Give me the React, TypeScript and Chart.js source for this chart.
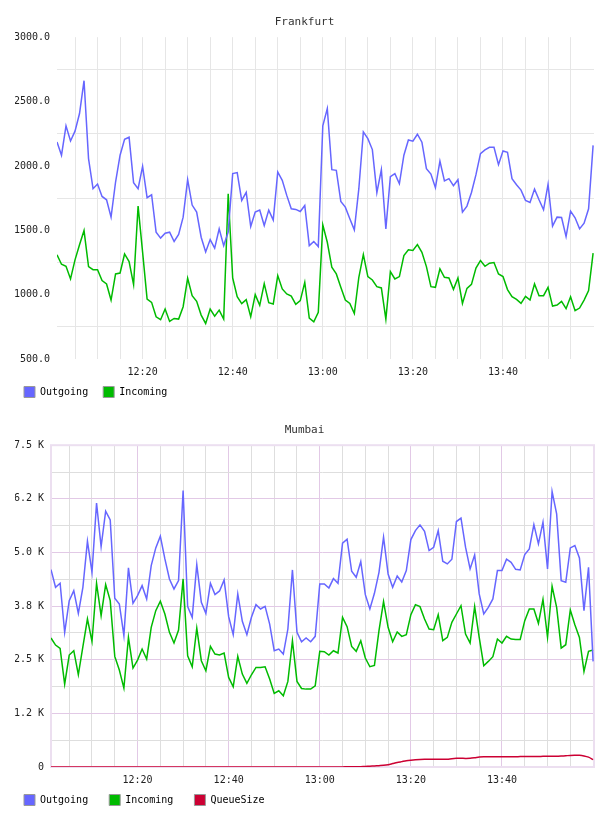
import React, { useEffect, useRef } from 'react';
import { Chart, registerables } from 'chart.js';

Chart.register(...registerables);

// ---- x axis: minutes after 12:00 (one sample per minute, 12:01 .. 14:00)
const minuteOffsets = Array.from({ length: 120 }, (_, i) => i + 1);
const timeTickValues = [20, 40, 60, 80, 100];
const timeTickLabels = ['12:20', '12:40', '13:00', '13:20', '13:40'];
const timeGridValues = [5, 10, 15, 20, 25, 30, 35, 40, 45, 50, 55, 60, 65, 70, 75, 80, 85, 90, 95, 100, 105, 110, 115];

// ---- Frankfurt
const frankfurtTickValues = [500, 1000, 1500, 2000, 2500, 3000];
const frankfurtTickLabels = ['500.0', '1000.0', '1500.0', '2000.0', '2500.0', '3000.0'];
const frankfurtGridValues = [500, 750, 1000, 1250, 1500, 1750, 2000, 2250, 2500, 2750, 3000];

const frankfurtOutgoing = [
  2186, 2083, 2311, 2194, 2270, 2407, 2662, 2057, 1823, 1859,
  1763, 1737, 1602, 1875, 2083, 2207, 2223, 1870, 1823, 1997,
  1753, 1776, 1485, 1439, 1477, 1485, 1413, 1467, 1602, 1893,
  1696, 1641, 1446, 1332, 1428, 1361, 1511, 1381, 1485, 1940,
  1948, 1732, 1794, 1529, 1641, 1657, 1537, 1657, 1579, 1953,
  1888, 1771, 1667, 1662, 1646, 1693, 1381, 1413, 1374, 2311,
  2446, 1971, 1966, 1724, 1680, 1589, 1503, 1823, 2264, 2212,
  2127, 1792, 1971, 1511, 1916, 1940, 1862, 2083, 2202, 2192,
  2246, 2184, 1979, 1937, 1831, 2038, 1883, 1901, 1846, 1893,
  1641, 1688, 1794, 1932, 2096, 2124, 2145, 2145, 2010, 2116,
  2106, 1901, 1854, 1812, 1732, 1716, 1820, 1737, 1659, 1857,
  1532, 1602, 1599, 1451, 1649, 1597, 1511, 1555, 1667, 2160,
];
const frankfurtIncoming = [
  1309, 1236, 1220, 1122, 1270, 1387, 1498, 1218, 1194, 1194,
  1109, 1083, 958, 1161, 1168, 1316, 1257, 1078, 1688, 1330,
  966, 940, 828, 805, 888, 792, 815, 810, 906, 1127,
  992, 948, 841, 776, 888, 833, 880, 810, 1784, 1129,
  984, 930, 961, 828, 1000, 917, 1085, 937, 927, 1148,
  1044, 1005, 989, 924, 953, 1096, 818, 789, 862, 1542,
  1407, 1213, 1161, 1057, 958, 932, 854, 1135, 1311, 1140,
  1114, 1062, 1052, 810, 1179, 1122, 1140, 1303, 1348, 1343,
  1389, 1329, 1218, 1062, 1057, 1200, 1135, 1130, 1041, 1130,
  932, 1049, 1080, 1207, 1264, 1220, 1244, 1249, 1161, 1140,
  1039, 984, 963, 932, 987, 958, 1083, 992, 992, 1057,
  911, 919, 948, 891, 984, 875, 896, 958, 1031, 1322,
];

// ---- Mumbai
const mumbaiTickValues = [0, 1250, 2500, 3750, 5000, 6250, 7500];
const mumbaiTickLabels = ['0', '1.2 K', '2.5 K', '3.8 K', '5.0 K', '6.2 K', '7.5 K'];
const mumbaiGridValues = [0, 625, 1250, 1875, 2500, 3125, 3750, 4375, 5000, 5625, 6250, 6875, 7500];

const mumbaiOutgoing = [
  4601, 4188, 4282, 3138, 3877, 4110, 3581, 4188, 5262, 4538,
  6149, 5137, 5962, 5760, 3932, 3799, 3060, 4640, 3815, 3994,
  4227, 3916, 4694, 5106, 5379, 4850, 4383, 4149, 4344, 6445,
  3737, 3488, 4717, 3838, 3581, 4282, 4017, 4103, 4359, 3504,
  3084, 4033, 3395, 3084, 3488, 3784, 3683, 3745, 3332, 2710,
  2749, 2632, 3216, 4593, 3138, 2920, 3006, 2920, 3045, 4266,
  4266, 4173, 4391, 4282, 5215, 5309, 4562, 4422, 4787, 4017,
  3683, 4048, 4538, 5355, 4499, 4188, 4453, 4313, 4577, 5301,
  5511, 5643, 5495, 5044, 5122, 5511, 4795, 4733, 4842, 5721,
  5799, 5122, 4616, 4943, 4033, 3566, 3721, 3916, 4577, 4577,
  4842, 4772, 4608, 4592, 4951, 5083, 5651, 5200, 5705, 4616,
  6421, 5900, 4344, 4305, 5106, 5161, 4873, 3644, 4655, 2461,
];
const mumbaiIncoming = [
  3006, 2842, 2765, 1932, 2609, 2710, 2150, 2803, 3449, 2928,
  4282, 3527, 4250, 3877, 2578, 2259, 1839, 3021, 2306, 2492,
  2749, 2516, 3255, 3644, 3862, 3566, 3138, 2889, 3192, 4383,
  2593, 2337, 3239, 2477, 2243, 2811, 2632, 2609, 2656, 2088,
  1870, 2578, 2165, 1948, 2150, 2321, 2321, 2337, 2049, 1714,
  1776, 1660, 1994, 2943, 1994, 1831, 1815, 1815, 1893, 2695,
  2687, 2609, 2710, 2656, 3488, 3270, 2811, 2695, 2943, 2539,
  2337, 2368, 3177, 3854, 3255, 2920, 3146, 3045, 3084, 3550,
  3784, 3737, 3449, 3216, 3200, 3550, 2943, 3021, 3371, 3566,
  3760, 3099, 2889, 3737, 3021, 2360, 2461, 2570, 2982, 2889,
  3045, 2982, 2974, 2974, 3410, 3683, 3683, 3348, 3908, 3021,
  4212, 3721, 2772, 2850, 3659, 3317, 3021, 2228, 2695, 2726,
];
const mumbaiQueueSize = [
  0, 0, 0, 0, 0, 0, 0, 0, 0, 0,
  0, 0, 0, 0, 0, 0, 0, 0, 0, 0,
  0, 0, 0, 0, 0, 0, 0, 0, 0, 0,
  0, 0, 0, 0, 0, 0, 0, 0, 0, 0,
  0, 0, 0, 0, 0, 0, 0, 0, 0, 0,
  0, 0, 0, 0, 0, 0, 0, 0, 0, 0,
  0, 0, 0, 1, 2, 4, 5, 6, 8, 12,
  18, 25, 32, 40, 55, 80, 105, 125, 145, 158,
  168, 175, 178, 179, 180, 180, 180, 182, 195, 202,
  202, 200, 202, 215, 232, 238, 238, 238, 238, 240,
  240, 240, 240, 242, 242, 244, 245, 246, 248, 248,
  250, 250, 255, 262, 270, 272, 272, 258, 230, 172,
];

// ---- styles
const MONO = "'DejaVu Sans Mono', monospace";
const BLUE = '#6666ff';
const GREEN = '#00bb00';
const RED = '#cc0033';

const toPoints = (values: number[]) => values.map((v, i) => ({ x: minuteOffsets[i], y: v }));

const labelFor = (values: number[], labels: string[]) => (v: any) => {
  const idx = values.indexOf(Number(v));
  return idx >= 0 ? labels[idx] : '';
};

const makeLegendLabels = (trailing: string) => (chart: any) =>
  Chart.defaults.plugins.legend.labels.generateLabels(chart).map((l: any) => ({
    ...l,
    text: l.text + trailing,
    strokeStyle: '#999999',
    lineWidth: 1,
  }));

const frameBorder = {
  id: 'frameBorder',
  beforeDatasetsDraw(chart: any, _args: any, opts: any) {
    if (!opts || !opts.color) return;
    const { ctx, chartArea: a } = chart;
    ctx.save();
    ctx.strokeStyle = opts.color;
    ctx.lineWidth = opts.width || 1;
    ctx.strokeRect(a.left, a.top, a.right - a.left, a.bottom - a.top);
    ctx.restore();
  },
};

type ChartSpec = {
  title: string;
  series: { label: string; values: number[]; color: string; tension?: number }[];
  yMin: number;
  yMax: number;
  yGrid: number[];
  yTickValues: number[];
  yTickLabels: string[];
  yColor: (v: number) => string;
  xColor: (v: number) => string;
  yWidth: number;
  legendTrailing: string;
  frame?: { color: string; width: number };
};

function makeConfig(spec: ChartSpec): any {
  const tickFont = { family: MONO, size: 10, lineHeight: 1 };
  return {
    type: 'line',
    data: {
      datasets: spec.series.map((s) => ({
        label: s.label,
        data: toPoints(s.values),
        borderColor: s.color,
        backgroundColor: s.color,
        borderWidth: 1.5,
        pointRadius: 0,
        fill: false,
        tension: s.tension || 0,
      })),
    },
    plugins: [frameBorder],
    options: {
      animation: false,
      responsive: true,
      maintainAspectRatio: false,
      layout: { padding: { left: 15, right: 14, top: 0, bottom: 0.5 } },
      plugins: {
        frameBorder: spec.frame || {},
        tooltip: { enabled: false },
        title: {
          display: true,
          text: spec.title,
          color: '#333333',
          font: { family: MONO, size: 11, weight: 'normal' },
          padding: { top: 15.5, bottom: 8.5 },
        },
        legend: {
          position: 'bottom',
          align: 'start',
          labels: {
            boxWidth: 11,
            boxHeight: 11,
            padding: 9,
            color: '#000000',
            font: { family: MONO, size: 10 },
            generateLabels: makeLegendLabels(spec.legendTrailing),
          },
        },
      },
      scales: {
        x: {
          type: 'linear',
          min: 1,
          max: 120.2,
          afterBuildTicks: (s: any) => {
            s.ticks = timeGridValues.map((v) => ({ value: v }));
          },
          afterFit: (s: any) => {
            s.height = 18.5;
          },
          border: { display: false },
          grid: {
            drawTicks: false,
            color: (c: any) => spec.xColor(c.tick ? c.tick.value : 0),
          },
          ticks: {
            autoSkip: false,
            maxRotation: 0,
            padding: 8.5,
            color: '#222222',
            font: tickFont,
            callback: labelFor(timeTickValues, timeTickLabels),
          },
        },
        y: {
          type: 'linear',
          min: spec.yMin,
          max: spec.yMax,
          afterBuildTicks: (s: any) => {
            s.ticks = spec.yGrid.map((v) => ({ value: v }));
          },
          afterFit: (s: any) => {
            s.width = spec.yWidth;
          },
          border: { display: false },
          grid: {
            drawTicks: false,
            color: (c: any) => spec.yColor(c.tick ? c.tick.value : 0),
          },
          ticks: {
            autoSkip: false,
            padding: 7,
            color: '#222222',
            font: tickFont,
            callback: labelFor(spec.yTickValues, spec.yTickLabels),
          },
        },
      },
    },
  };
}

const frankfurtSpec: ChartSpec = {
  title: 'Frankfurt',
  series: [
    { label: 'Outgoing', values: frankfurtOutgoing, color: BLUE },
    { label: 'Incoming', values: frankfurtIncoming, color: GREEN },
  ],
  yMin: 500,
  yMax: 3000,
  yGrid: frankfurtGridValues,
  yTickValues: frankfurtTickValues,
  yTickLabels: frankfurtTickLabels,
  yColor: (v) => (v % 500 === 0 ? 'rgba(0,0,0,0)' : '#e6e6e6'),
  xColor: () => '#e6e6e6',
  yWidth: 42,
  legendTrailing: ' ',
};

const PURPLE = '#e2c9e6';
const GRAY = '#dedede';

const mumbaiSpec: ChartSpec = {
  title: 'Mumbai',
  series: [
    { label: 'Outgoing', values: mumbaiOutgoing, color: BLUE },
    { label: 'Incoming', values: mumbaiIncoming, color: GREEN },
    { label: 'QueueSize', values: mumbaiQueueSize, color: RED, tension: 0.3 },
  ],
  yMin: 0,
  yMax: 7500,
  yGrid: mumbaiGridValues,
  yTickValues: mumbaiTickValues,
  yTickLabels: mumbaiTickLabels,
  yColor: (v) => (v % 1250 === 0 ? PURPLE : GRAY),
  xColor: (v) => (v % 20 === 0 ? PURPLE : GRAY),
  yWidth: 36,
  legendTrailing: '  ',
  frame: { color: '#ecdff0', width: 2 },
};

function LineChart({ spec }: { spec: ChartSpec }) {
  const ref = useRef<HTMLCanvasElement>(null);
  useEffect(() => {
    const chart = new Chart(ref.current as HTMLCanvasElement, makeConfig(spec));
    return () => chart.destroy();
  }, [spec]);
  return (
    <div style={{ position: 'relative', width: 608, height: 408 }}>
      <canvas ref={ref} />
    </div>
  );
}

export default function App() {
  return (
    <div style={{ position: 'absolute', left: 0, top: 0, width: 608, height: 816, background: '#ffffff' }}>
      <LineChart spec={frankfurtSpec} />
      <LineChart spec={mumbaiSpec} />
    </div>
  );
}
